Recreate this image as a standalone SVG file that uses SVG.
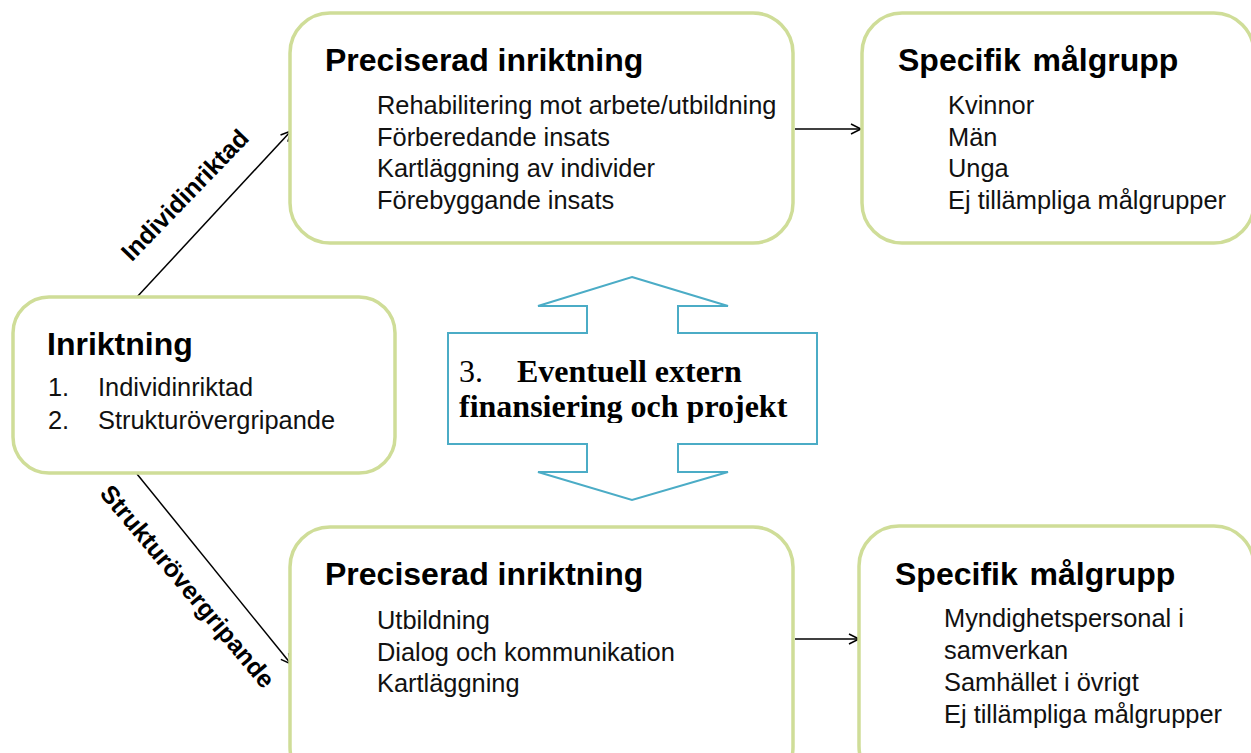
<svg xmlns="http://www.w3.org/2000/svg" width="1251" height="753" viewBox="0 0 1251 753">
<style>
.box{fill:#fff;stroke:#cfdd98;stroke-width:3.5}
.h{font-family:"Liberation Sans",Arial,sans-serif;font-weight:bold;font-size:32px;fill:#000}
.t{font-family:"Liberation Sans",Arial,sans-serif;font-size:25.4px;fill:#111}
.lbl{font-family:"Liberation Sans",Arial,sans-serif;font-weight:bold;font-size:25px;fill:#000}
.c{stroke:#000;stroke-width:1.5;fill:none}
.ser{font-family:"Liberation Serif","Times New Roman",serif;font-size:32px;fill:#000}
</style>
<defs>
<marker id="arr" markerUnits="userSpaceOnUse" markerWidth="14" markerHeight="14" refX="11" refY="6" orient="auto">
<path d="M1,1 L11,6 L1,11" fill="none" stroke="#000" stroke-width="1.5"/>
</marker>
<clipPath id="clipArrow"><rect x="440" y="330" width="390" height="93"/></clipPath>
</defs>

<g id="connectors">
<line class="c" x1="137" y1="297" x2="291" y2="131" marker-end="url(#arr)"/>
<line class="c" x1="137" y1="474" x2="291" y2="664" marker-end="url(#arr)"/>
<line class="c" x1="795" y1="129" x2="861" y2="129" marker-end="url(#arr)"/>
<line class="c" x1="795" y1="639" x2="859" y2="639" marker-end="url(#arr)"/>
<text class="lbl" text-anchor="middle" transform="translate(191,201) rotate(-46)">Individinriktad</text>
<text class="lbl" text-anchor="middle" transform="translate(181,592) rotate(50)">Strukturövergripande</text>
</g>

<g id="inriktning">
<rect class="box" x="13" y="297" width="382" height="176" rx="36"/>
<text class="h" x="47" y="355">Inriktning</text>
<text class="t" x="48" y="396">1.</text>
<text class="t" x="98" y="396">Individinriktad</text>
<text class="t" x="48" y="429">2.</text>
<text class="t" x="98" y="429">Strukturövergripande</text>
</g>

<g id="precis-top">
<rect class="box" x="290" y="13" width="503" height="230" rx="40"/>
<text class="h" x="325" y="71">Preciserad inriktning</text>
<text class="t" x="377" y="114">Rehabilitering mot arbete/utbildning</text>
<text class="t" x="377" y="146">Förberedande insats</text>
<text class="t" x="377" y="177">Kartläggning av individer</text>
<text class="t" x="377" y="209">Förebyggande insats</text>
</g>

<g id="malgrupp-top">
<rect class="box" x="862" y="13" width="392" height="230" rx="40"/>
<text class="h" x="898" y="71" word-spacing="3">Specifik målgrupp</text>
<text class="t" x="948" y="114">Kvinnor</text>
<text class="t" x="948" y="146">Män</text>
<text class="t" x="948" y="177">Unga</text>
<text class="t" x="948" y="209">Ej tillämpliga målgrupper</text>
</g>

<g id="precis-bottom">
<rect class="box" x="290" y="527" width="503" height="260" rx="40"/>
<text class="h" x="325" y="585">Preciserad inriktning</text>
<text class="t" x="377" y="629">Utbildning</text>
<text class="t" x="377" y="661">Dialog och kommunikation</text>
<text class="t" x="377" y="692">Kartläggning</text>
</g>

<g id="malgrupp-bottom">
<rect class="box" x="859" y="526" width="395" height="260" rx="40"/>
<text class="h" x="895" y="585" word-spacing="3">Specifik målgrupp</text>
<text class="t" x="944" y="627">Myndighetspersonal i</text>
<text class="t" x="944" y="659">samverkan</text>
<text class="t" x="944" y="691">Samhället i övrigt</text>
<text class="t" x="944" y="723">Ej tillämpliga målgrupper</text>
</g>

<g id="extern">
<path d="M632,277 L728,306 L678,306 L678,333 L817,333 L817,444 L678,444 L678,472 L728,472 L632,500 L538,472 L587,472 L587,444 L448,444 L448,333 L587,333 L587,306 L538,306 Z" fill="#fff" stroke="#4bacc6" stroke-width="2"/>
<g clip-path="url(#clipArrow)">
<text class="ser" x="459" y="382">3.</text>
<text class="ser" x="517" y="382" font-weight="bold">Eventuell extern</text>
<text class="ser" x="459" y="417" font-weight="bold">finansiering och projekt</text>
</g>
</g>
</svg>
